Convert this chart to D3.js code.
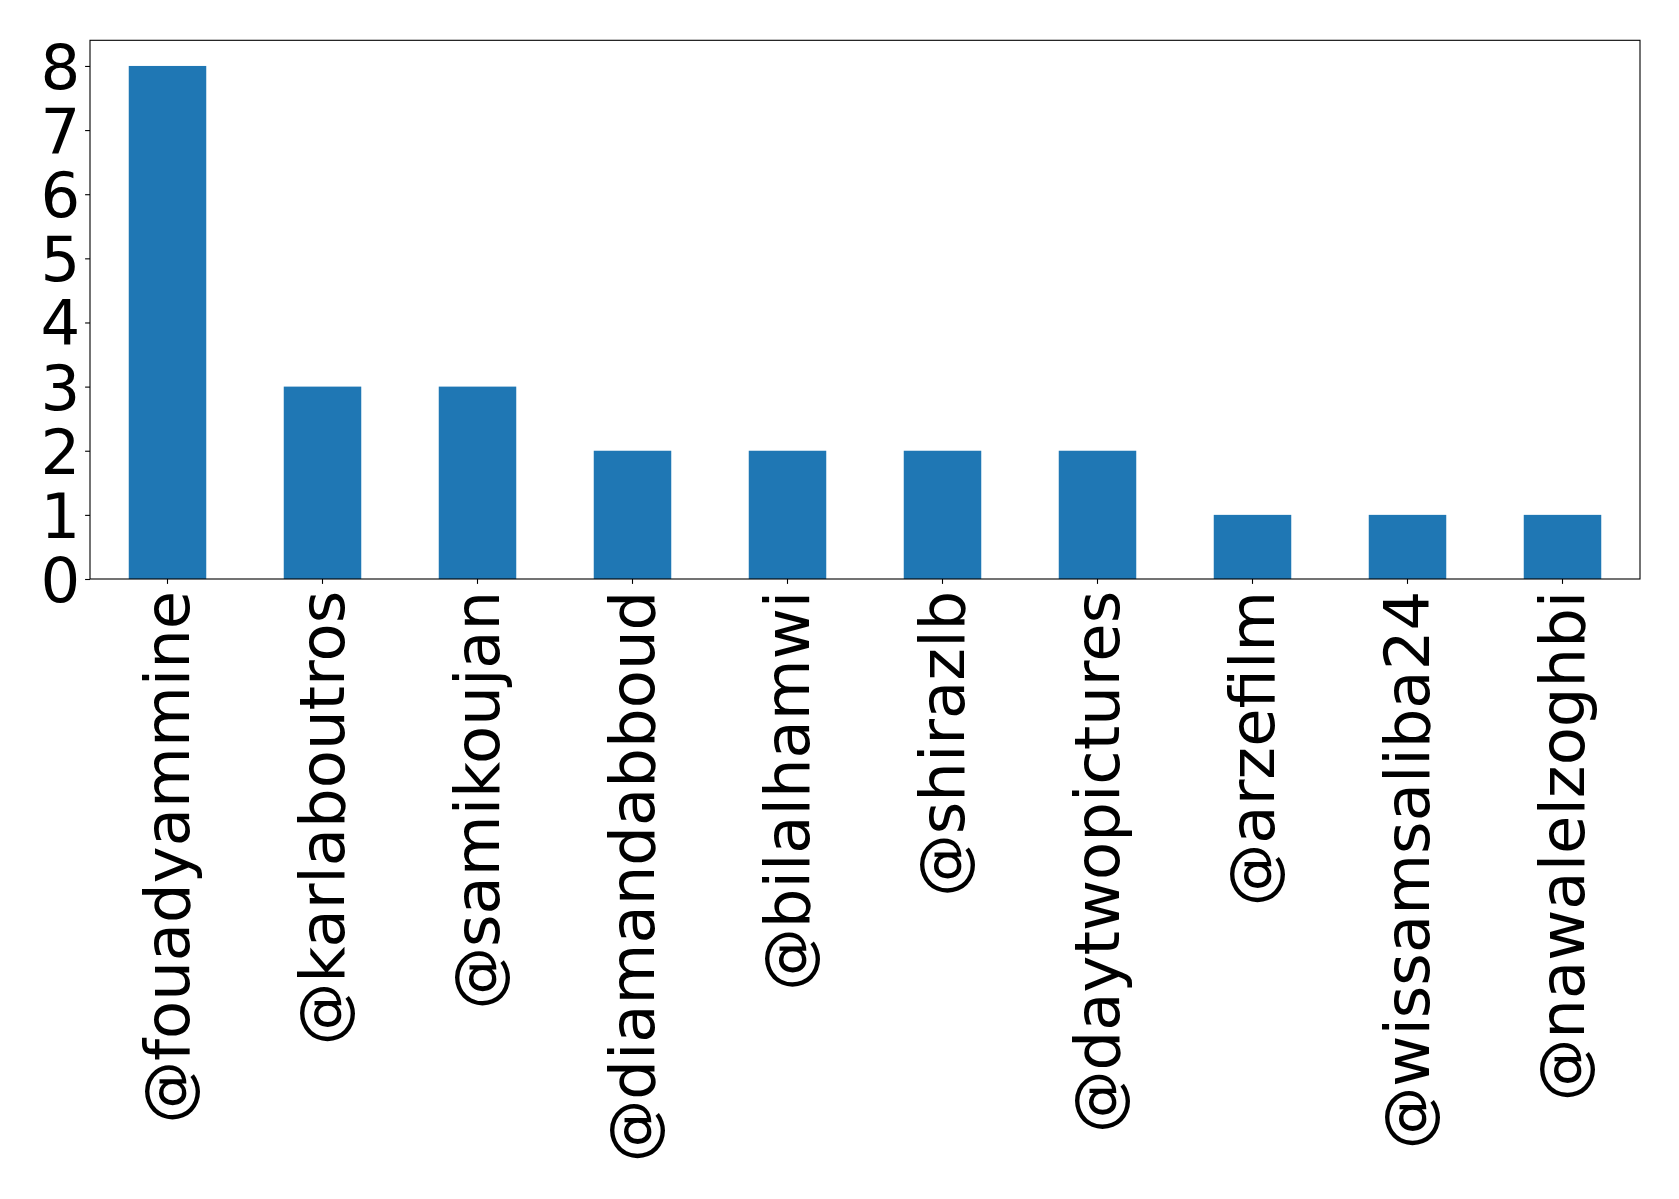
<!DOCTYPE html>
<html>
<head>
<meta charset="utf-8">
<title>Mentions</title>
<script src="https://cdnjs.cloudflare.com/ajax/libs/d3/7.8.5/d3.min.js"></script>
<style>
    body { margin: 0; background: #fff; }
    text { font-family: "DejaVu Sans", sans-serif; fill: #000; }
</style>
</head>
<body>
<div id="chart"></div>
<script>
    // data
    var accounts = ["@fouadyammine", "@karlaboutros", "@samikoujan", "@diamandabboud",
        "@bilalhamwi", "@shirazlb", "@daytwopictures", "@arzefilm", "@wissamsaliba24", "@nawalelzoghbi"];
    var counts = [8, 3, 3, 2, 2, 2, 2, 1, 1, 1];
    var yTicks = [0, 1, 2, 3, 4, 5, 6, 7, 8];

    var width = 1679,
        height = 1199,
        margin = {top: 40.3, right: 39, bottom: 620, left: 90};

    var w = width - margin.left - margin.right,
        h = height - margin.top - margin.bottom;

    var fontSize = 62.5,
        tickLen = 4.9,
        pad = 4.9;

    var x = d3.scaleBand()
        .domain(accounts)
        .range([0, w])
        .paddingInner(0.5)
        .paddingOuter(0.25);

    var y = d3.scaleLinear()
        .domain([0, d3.max(counts) * 1.05])
        .range([h, 0]);

    var svg = d3.select("#chart").append("svg")
        .attr("width", width)
        .attr("height", height)
        .append("g")
        .attr("transform", "translate(" + margin.left + "," + margin.top + ")");

    svg.selectAll("rect.bar")
        .data(counts)
        .enter().append("rect")
        .attr("class", "bar")
        .attr("x", function(d, i) { return x(accounts[i]); })
        .attr("y", function(d) { return y(d); })
        .attr("width", x.bandwidth())
        .attr("height", function(d) { return h - y(d); })
        .style("fill", "#1f77b4");

    // y axis
    var yAxis = svg.append("g")
        .call(d3.axisLeft(y).tickValues(yTicks).tickSize(tickLen).tickPadding(pad).tickFormat(d3.format("d")));
    yAxis.select(".domain").remove();
    yAxis.selectAll("line").attr("stroke", "#000").attr("stroke-width", 1.1);
    yAxis.selectAll("text")
        .attr("font-size", fontSize)
        .attr("font-family", "DejaVu Sans")
        .attr("dy", "0.36em");

    // x axis, labels rotated
    var xAxis = svg.append("g")
        .attr("transform", "translate(0," + h + ")")
        .call(d3.axisBottom(x).tickSize(tickLen).tickPadding(pad));
    xAxis.select(".domain").remove();
    xAxis.selectAll("line").attr("stroke", "#000").attr("stroke-width", 1.1);
    xAxis.selectAll("text")
        .attr("font-size", fontSize)
        .attr("font-family", "DejaVu Sans")
        .attr("text-anchor", "end")
        .attr("transform", "rotate(-90)")
        .attr("x", -(tickLen + pad + 2))
        .attr("y", 0)
        .attr("dy", "0.35em");

    // frame
    svg.append("rect")
        .attr("width", w)
        .attr("height", h)
        .attr("fill", "none")
        .attr("stroke", "#000")
        .attr("stroke-width", 1.1);
</script>
</body>
</html>
